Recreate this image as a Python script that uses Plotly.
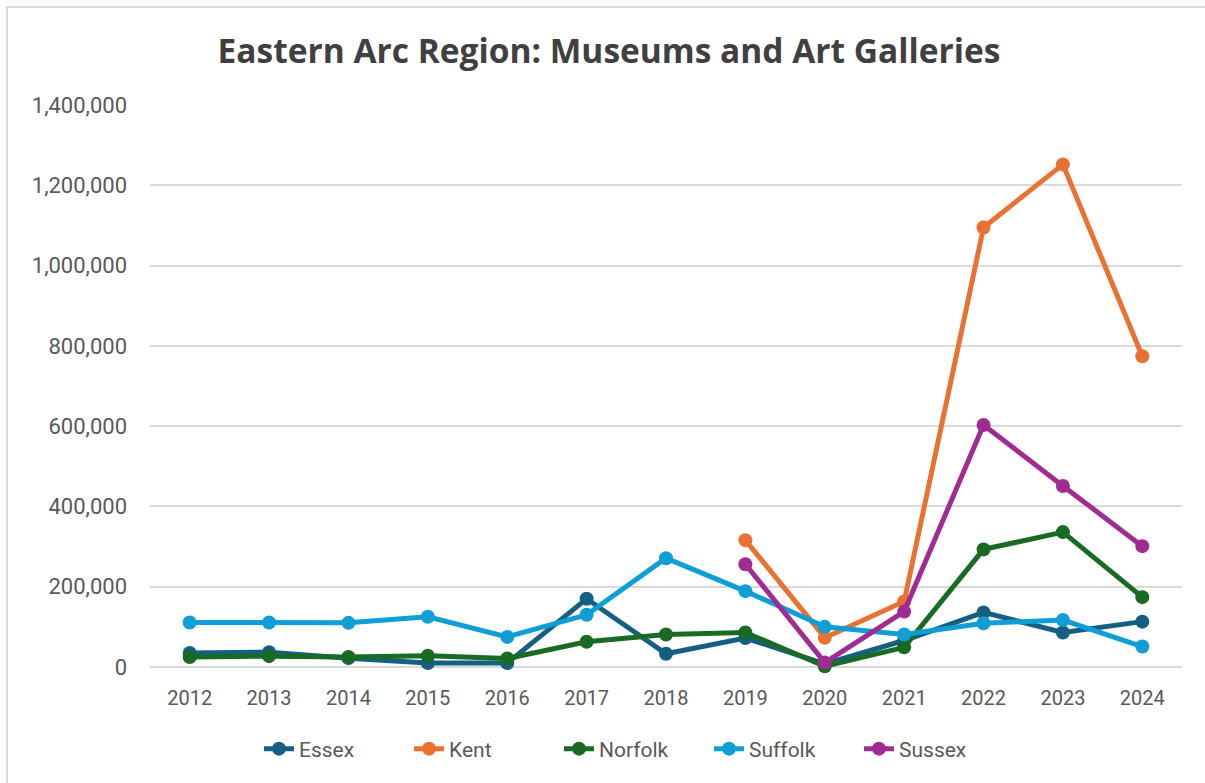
import plotly.graph_objects as go

# Annual visitor numbers, museums and art galleries, by county
years = ["2012", "2013", "2014", "2015", "2016", "2017", "2018",
         "2019", "2020", "2021", "2022", "2023", "2024"]

essex = [35000, 37000, 22000, 10000, 10000, 170000, 33000,
         72000, 8000, 66000, 136000, 86000, 113000]
kent = [None, None, None, None, None, None, None,
        316000, 73000, 163000, 1095000, 1252000, 774000]
norfolk = [25000, 27000, 25000, 28000, 21000, 63000, 81000,
           86000, 2000, 49000, 293000, 336000, 174000]
suffolk = [111000, 111000, 110000, 125000, 75000, 130000, 271000,
           189000, 100000, 81000, 109000, 117000, 51000]
sussex = [None, None, None, None, None, None, None,
          256000, 11000, 138000, 603000, 451000, 301000]

series_names = ["Essex", "Kent", "Norfolk", "Suffolk", "Sussex"]
series_values = [essex, kent, norfolk, suffolk, sussex]
series_colors = ["#156082", "#E97132", "#196B24", "#0F9ED5", "#A02B93"]

y_ticks = [0, 200000, 400000, 600000, 800000, 1000000, 1200000, 1400000]
y_tick_text = ["0", "200,000", "400,000", "600,000", "800,000",
               "1,000,000", "1,200,000", "1,400,000"]

fig = go.Figure()
for name, vals, color in zip(series_names, series_values, series_colors):
    fig.add_trace(go.Scatter(
        x=years, y=vals, name=name, mode="lines+markers",
        line=dict(color=color, width=5),
        marker=dict(color=color, size=14),
        connectgaps=False, cliponaxis=False,
    ))

W, H = 1205, 783
L, R, T, B = 150, 23, 105, 116
pw = W - L - R
ph = H - T - B

fig.update_layout(
    width=W, height=H,
    margin=dict(l=L, r=R, t=T, b=B, pad=0),
    paper_bgcolor="white", plot_bgcolor="white",
    font=dict(family="Roboto", color="#595959", size=21),
    title=dict(
        text="<b>Eastern Arc Region: Museums and Art Galleries</b>",
        x=609 / W, xanchor="center", y=1 - 51 / H, yanchor="middle",
        font=dict(family="Open Sans", size=33.5, color="#404040"),
    ),
    xaxis=dict(
        type="category", range=[-0.5, 12.5],
        showgrid=False, showline=False, zeroline=False,
        ticks="", ticklabelstandoff=17,
        tickfont=dict(size=20, color="#595959"),
    ),
    yaxis=dict(
        range=[0, 1400000], tickvals=y_ticks, ticktext=y_tick_text,
        showgrid=True, gridcolor="#d9d9d9", gridwidth=1.5,
        zeroline=True, zerolinecolor="#d9d9d9", zerolinewidth=1.5,
        showline=False, ticks="", ticklabelstandoff=22,
        tickfont=dict(size=22, color="#595959"),
    ),
    legend=dict(
        orientation="h", x=(634 - L) / pw, xanchor="center",
        y=-(749 - 667) / ph, yanchor="middle",
        font=dict(size=21, color="#595959"),
        entrywidth=105, entrywidthmode="pixels",
    ),
    showlegend=True,
)

# Chart area border
fig.add_shape(
    type="rect", xref="paper", yref="paper",
    x0=(7 - L) / pw, x1=(W + 10 - L) / pw,
    y0=-(H + 10 - T - ph) / ph, y1=1 + (T - 7) / ph,
    line=dict(color="#d0d0d0", width=1.5), fillcolor="rgba(0,0,0,0)",
    layer="below",
)
# Descender of the line of body text sitting above the chart
fig.add_annotation(
    text="p", xref="paper", yref="paper",
    x=(226 - L) / pw, y=1 + (T + 15) / ph,
    xanchor="center", yanchor="middle", showarrow=False,
    font=dict(family="Liberation Serif", size=26, color="#000000"),
)

fig.write_html("out.html")
